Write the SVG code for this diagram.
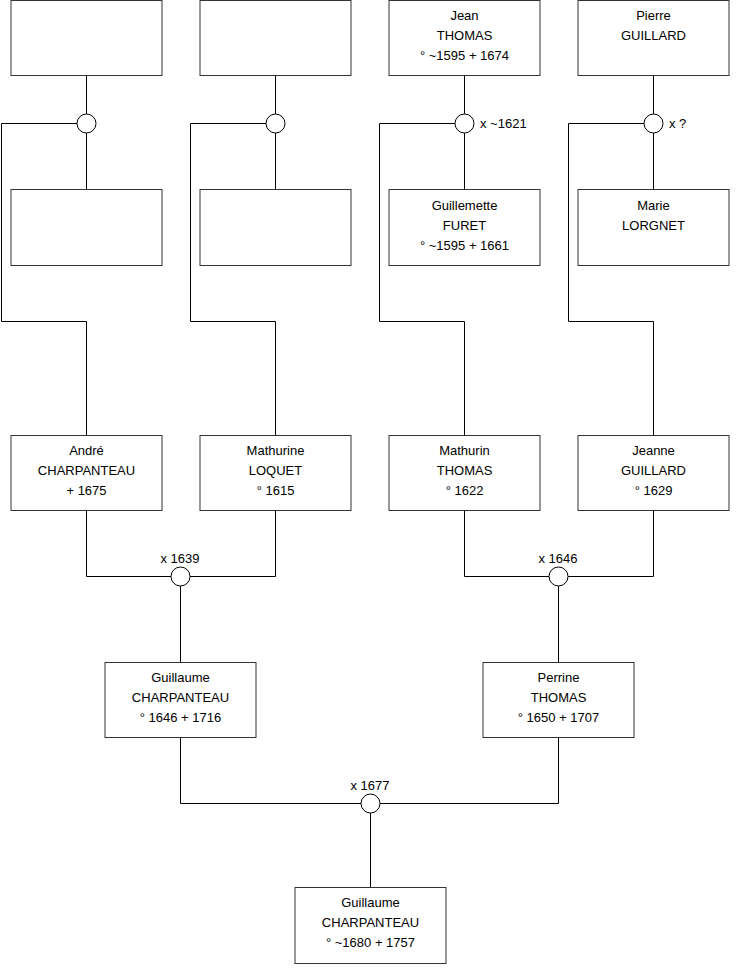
<svg xmlns="http://www.w3.org/2000/svg" width="740" height="975" viewBox="0 0 740 975">
<style>
.box{fill:#fff;stroke:#333;stroke-width:1}
.ln{fill:none;stroke:#000;stroke-width:1}
.c{fill:#fff;stroke:#000;stroke-width:1}
text{font-family:"Liberation Sans",Arial,sans-serif;font-size:13px;fill:#000}
.m{text-anchor:middle}
</style>
<rect width="740" height="975" fill="#fff"/>
<g id="connectors">
<path class="ln" d="M86.5 75.5V114M86.5 133V189.5M77 123.5H1.5V321.5H86.5V435.5"/>
<path class="ln" d="M275.5 75.5V114M275.5 133V189.5M266 123.5H190.5V321.5H275.5V435.5"/>
<path class="ln" d="M464.5 75.5V114M464.5 133V189.5M455 123.5H379.5V321.5H464.5V435.5"/>
<path class="ln" d="M653.5 75.5V114M653.5 133V189.5M644 123.5H568.5V321.5H653.5V435.5"/>
<path class="ln" d="M86.5 510.5V576.5H171M190 576.5H275.5V510.5M180.5 586V662.5"/>
<path class="ln" d="M464.5 510.5V576.5H549M568 576.5H653.5V510.5M558.5 586V662.5"/>
<path class="ln" d="M180.5 737.5V803.5H361M380 803.5H558.5V737.5M370.5 813V887.5"/>
<circle class="c" cx="86.5" cy="123.5" r="9.5"/>
<circle class="c" cx="275.5" cy="123.5" r="9.5"/>
<circle class="c" cx="464.5" cy="123.5" r="9.5"/>
<circle class="c" cx="653.5" cy="123.5" r="9.5"/>
<circle class="c" cx="180.5" cy="576.5" r="9.5"/>
<circle class="c" cx="558.5" cy="576.5" r="9.5"/>
<circle class="c" cx="370.5" cy="803.5" r="9.5"/>
<text x="480" y="128">x ~1621</text>
<text x="669" y="128">x ?</text>
<text class="m" x="180" y="563">x 1639</text>
<text class="m" x="558" y="563">x 1646</text>
<text class="m" x="370" y="790">x 1677</text>
</g>
<g id="n1"><rect class="box" x="11" y="0.5" width="151" height="75"/></g>
<g id="n2"><rect class="box" x="200" y="0.5" width="151" height="75"/></g>
<g id="n3"><rect class="box" x="389" y="0.5" width="151" height="75"/>
<text class="m" x="464.5" y="20">Jean</text><text class="m" x="464.5" y="40">THOMAS</text><text class="m" x="464.5" y="60">° ~1595 + 1674</text></g>
<g id="n4"><rect class="box" x="578" y="0.5" width="151" height="75"/>
<text class="m" x="653.5" y="20">Pierre</text><text class="m" x="653.5" y="40">GUILLARD</text></g>
<g id="n5"><rect class="box" x="11" y="189.5" width="151" height="76"/></g>
<g id="n6"><rect class="box" x="200" y="189.5" width="151" height="76"/></g>
<g id="n7"><rect class="box" x="389" y="189.5" width="151" height="76"/>
<text class="m" x="464.5" y="210">Guillemette</text><text class="m" x="464.5" y="230">FURET</text><text class="m" x="464.5" y="250">° ~1595 + 1661</text></g>
<g id="n8"><rect class="box" x="578" y="189.5" width="151" height="76"/>
<text class="m" x="653.5" y="210">Marie</text><text class="m" x="653.5" y="230">LORGNET</text></g>
<g id="n9"><rect class="box" x="11" y="435.5" width="151" height="75"/>
<text class="m" x="86.5" y="455">André</text><text class="m" x="86.5" y="475">CHARPANTEAU</text><text class="m" x="86.5" y="495">+ 1675</text></g>
<g id="n10"><rect class="box" x="200" y="435.5" width="151" height="75"/>
<text class="m" x="275.5" y="455">Mathurine</text><text class="m" x="275.5" y="475">LOQUET</text><text class="m" x="275.5" y="495">° 1615</text></g>
<g id="n11"><rect class="box" x="389" y="435.5" width="151" height="75"/>
<text class="m" x="464.5" y="455">Mathurin</text><text class="m" x="464.5" y="475">THOMAS</text><text class="m" x="464.5" y="495">° 1622</text></g>
<g id="n12"><rect class="box" x="578" y="435.5" width="151" height="75"/>
<text class="m" x="653.5" y="455">Jeanne</text><text class="m" x="653.5" y="475">GUILLARD</text><text class="m" x="653.5" y="495">° 1629</text></g>
<g id="n13"><rect class="box" x="105" y="662.5" width="151" height="75"/>
<text class="m" x="180.5" y="682">Guillaume</text><text class="m" x="180.5" y="702">CHARPANTEAU</text><text class="m" x="180.5" y="722">° 1646 + 1716</text></g>
<g id="n14"><rect class="box" x="483" y="662.5" width="151" height="75"/>
<text class="m" x="558.5" y="682">Perrine</text><text class="m" x="558.5" y="702">THOMAS</text><text class="m" x="558.5" y="722">° 1650 + 1707</text></g>
<g id="n15"><rect class="box" x="295" y="887.5" width="151" height="76"/>
<text class="m" x="370.5" y="907">Guillaume</text><text class="m" x="370.5" y="927">CHARPANTEAU</text><text class="m" x="370.5" y="947">° ~1680 + 1757</text></g>
</svg>
